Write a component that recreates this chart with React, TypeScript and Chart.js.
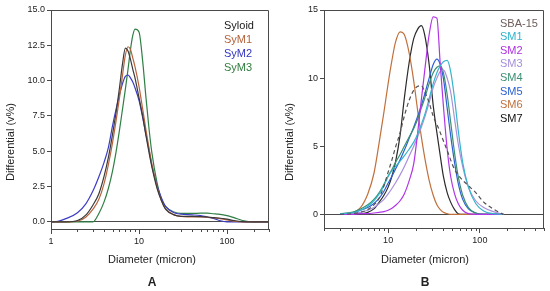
import React, { useEffect, useRef } from "react";
import { Chart, registerables } from "chart.js";
Chart.register(...registerables);

// ---------- Panel A data ----------
const diamA = [1, 1.2, 1.5, 2, 2.5, 3, 3.5, 4, 4.5, 5, 5.5, 6, 6.5, 7, 7.5, 8, 8.5, 9, 10, 11, 12, 13, 14, 16, 18, 20, 25, 30, 40, 50, 60, 70, 80, 100, 120, 150, 200, 300];
const syloid = [0, 0, 0, 0.1, 0.5, 1.2, 2.0, 3.2, 4.6, 6.2, 7.8, 9.5, 11.2, 12.3, 12.1, 11.5, 10.8, 10.2, 8.8, 7.5, 6.1, 4.9, 3.9, 2.4, 1.5, 0.9, 0.5, 0.4, 0.4, 0.38, 0.35, 0.3, 0.28, 0.2, 0.1, 0.02, 0, 0];
const syM1 = [0, 0, 0, 0.05, 0.35, 0.9, 1.6, 2.7, 4.1, 5.6, 7.2, 8.8, 10.4, 11.8, 12.4, 12.2, 11.6, 11.0, 9.6, 8.0, 6.5, 5.2, 4.1, 2.5, 1.5, 0.95, 0.5, 0.4, 0.35, 0.35, 0.33, 0.3, 0.25, 0.15, 0.05, 0, 0, 0];
const syM2 = [0, 0.05, 0.25, 0.65, 1.3, 2.2, 3.2, 4.2, 5.3, 6.8, 8.0, 9.0, 9.8, 10.3, 10.4, 10.2, 9.9, 9.5, 8.6, 7.4, 6.2, 5.1, 4.0, 2.6, 1.7, 1.1, 0.65, 0.55, 0.5, 0.45, 0.35, 0.25, 0.12, 0, 0, 0, 0, 0];
const syM3 = [0, 0, 0, 0, 0, 0, 0.6, 1.4, 2.4, 3.6, 5.0, 6.5, 8.0, 9.4, 10.8, 12.2, 13.2, 13.65, 13.45, 11.4, 8.8, 6.6, 4.9, 2.8, 1.6, 1.1, 0.7, 0.6, 0.6, 0.62, 0.62, 0.58, 0.55, 0.45, 0.3, 0.1, 0, 0];
const labelsA = ["Syloid", "SyM1", "SyM2", "SyM3"];
const yTicksA = [0, 2.5, 5, 7.5, 10, 12.5, 15];
const xMajorA = [1, 10, 100];
const xMinorA = [2, 3, 4, 5, 6, 7, 8, 9, 20, 30, 40, 50, 60, 70, 80, 90, 200, 300];

// ---------- Panel B data ----------
const diamB = [3, 4, 5, 6, 7, 8, 9, 10, 11, 12, 13.5, 15, 17, 19, 21, 23, 25, 28, 31, 34, 37, 40, 44, 48, 53, 58, 65, 75, 90, 110, 140, 180];
const sba15 = [0, 0.05, 0.15, 0.35, 0.7, 1.2, 2.1, 3.1, 4.0, 4.9, 6.0, 7.2, 8.4, 9.1, 9.4, 9.45, 9.0, 8.2, 7.2, 6.6, 6.0, 5.4, 4.7, 4.0, 3.3, 2.9, 2.5, 2.1, 1.6, 0.9, 0.4, 0];
const sm1 = [0.05, 0.1, 0.3, 0.6, 1.0, 1.5, 2.1, 2.8, 3.2, 3.5, 3.9, 4.3, 4.8, 5.3, 5.9, 6.6, 7.3, 8.5, 9.6, 10.4, 10.9, 11.2, 11.3, 10.5, 8.5, 6.2, 3.8, 2.0, 0.8, 0.25, 0.05, 0];
const sm2 = [0, 0, 0.05, 0.05, 0.1, 0.15, 0.2, 0.3, 0.45, 0.65, 1.0, 1.5, 2.5, 3.7, 6.0, 8.4, 10.5, 13.2, 14.5, 14.4, 11.0, 8.0, 4.8, 2.8, 1.5, 0.8, 0.3, 0.05, 0, 0, 0, 0];
const sm3 = [0, 0.05, 0.15, 0.3, 0.5, 0.8, 1.1, 1.5, 1.9, 2.3, 2.9, 3.5, 4.3, 5.0, 5.7, 6.4, 7.1, 8.2, 9.3, 10.0, 10.5, 10.6, 10.0, 9.0, 7.0, 5.2, 3.5, 2.0, 1.0, 0.5, 0.2, 0];
const sm4 = [0.05, 0.15, 0.4, 0.7, 1.1, 1.6, 2.2, 2.8, 3.3, 3.8, 4.4, 5.0, 5.7, 6.3, 7.0, 7.8, 8.5, 9.6, 10.4, 10.8, 10.9, 10.4, 8.8, 6.8, 4.5, 2.8, 1.4, 0.5, 0.1, 0, 0, 0];
const sm5 = [0.05, 0.1, 0.3, 0.5, 0.8, 1.2, 1.7, 2.3, 2.8, 3.3, 4.0, 4.7, 5.6, 6.4, 7.2, 8.0, 8.8, 10.0, 11.0, 11.4, 11.0, 10.0, 7.8, 5.8, 3.8, 2.3, 1.1, 0.4, 0.1, 0, 0, 0];
const sm6 = [0, 0.1, 0.5, 1.5, 3.0, 5.3, 7.5, 9.6, 11.3, 12.6, 13.4, 13.2, 11.8, 9.8, 7.6, 5.7, 4.2, 2.5, 1.4, 0.7, 0.35, 0.15, 0.05, 0, 0, 0, 0, 0, 0, 0, 0, 0];
const sm7 = [0, 0, 0.05, 0.15, 0.4, 0.9, 1.4, 2.0, 2.8, 3.8, 5.8, 8.5, 11.2, 12.9, 13.6, 13.85, 13.2, 11.0, 8.0, 6.0, 4.3, 2.8, 1.6, 0.9, 0.35, 0.05, 0, 0, 0, 0, 0, 0];
const labelsB = ["SBA-15", "SM1", "SM2", "SM3", "SM4", "SM5", "SM6", "SM7"];
const yTicksB = [0, 5, 10, 15];
const xMajorB = [10, 100];
const xMinorB = [2, 3, 4, 5, 6, 7, 8, 9, 20, 30, 40, 50, 60, 70, 80, 90, 200, 300, 400, 500];

const FONT = "'Liberation Sans', Arial, Helvetica, sans-serif";
const AXIS = "#4a4a4a";

type SeriesSpec = { label: string; values: number[]; color: string; text: string; dash?: number[] };
type PanelSpec = {
  x: number[];
  series: SeriesSpec[];
  xMin: number; xMax: number; yMin: number; yMax: number;
  yTicks: number[]; yDec: number; xMajor: number[]; xMinor: number[];
  yAxisWidth: number; xAxisHeight: number; padRight: number; padTop: number;
  legendX: number; legendY: number; legendStep: number;
  xTitleX: number; xTitleY: number; yTitleX: number; yTitleY: number;
  letter: string; letterX: number; letterY: number;
};

const panelA: PanelSpec = {
  x: diamA,
  series: [
    { label: labelsA[0], values: syloid, color: "#3a3a3a", text: "#1a1a1a" },
    { label: labelsA[1], values: syM1, color: "#b8653e", text: "#b5613a" },
    { label: labelsA[2], values: syM2, color: "#3d3dc4", text: "#3333c0" },
    { label: labelsA[3], values: syM3, color: "#2f7f45", text: "#2e7d3c" },
  ],
  xMin: 1, xMax: 300, yMin: -0.5, yMax: 15,
  yTicks: yTicksA, yDec: 1, xMajor: xMajorA, xMinor: xMinorA,
  yAxisWidth: 51, xAxisHeight: 62, padRight: 6, padTop: 10,
  legendX: 224, legendY: 26, legendStep: 13.9,
  xTitleX: 152, xTitleY: 260, yTitleX: 11, yTitleY: 142,
  letter: "A", letterX: 152, letterY: 283,
};

const panelB: PanelSpec = {
  x: diamB,
  series: [
    { label: labelsB[0], values: sba15, color: "#555050", text: "#6e5c5c", dash: [4, 3] },
    { label: labelsB[1], values: sm1, color: "#35b5cc", text: "#2fb3cc" },
    { label: labelsB[2], values: sm2, color: "#b035e6", text: "#b030e0" },
    { label: labelsB[3], values: sm3, color: "#a890dc", text: "#a48fd8" },
    { label: labelsB[4], values: sm4, color: "#3a9070", text: "#3a9070" },
    { label: labelsB[5], values: sm5, color: "#2f5fd4", text: "#2a5fd0" },
    { label: labelsB[6], values: sm6, color: "#c0703c", text: "#c0703c" },
    { label: labelsB[7], values: sm7, color: "#2a2a2a", text: "#111111" },
  ],
  xMin: 2, xMax: 500, yMin: -1, yMax: 15,
  yTicks: yTicksB, yDec: 0, xMajor: xMajorB, xMinor: xMinorB,
  yAxisWidth: 49, xAxisHeight: 63, padRight: 6, padTop: 10,
  legendX: 225, legendY: 23.5, legendStep: 13.6,
  xTitleX: 150, xTitleY: 260, yTitleX: 15, yTitleY: 142,
  letter: "B", letterX: 150, letterY: 283,
};

function decorPlugin(spec: PanelSpec) {
  return {
    id: "decor" + spec.letter,
    afterDraw(chart: any) {
      const ctx = chart.ctx;
      const a = chart.chartArea;
      ctx.save();
      ctx.strokeStyle = AXIS;
      ctx.lineWidth = 1;
      ctx.beginPath();
      ctx.moveTo(Math.round(a.left) - 0.5, Math.round(a.top) + 0.5);
      ctx.lineTo(Math.round(a.right) - 0.5, Math.round(a.top) + 0.5);
      ctx.lineTo(Math.round(a.right) - 0.5, Math.round(a.bottom));
      ctx.stroke();
      const xs = chart.scales.x;
      ctx.beginPath();
      spec.xMinor.forEach((v) => {
        const px = Math.round(xs.getPixelForValue(v)) + 0.5;
        ctx.moveTo(px, a.bottom);
        ctx.lineTo(px, a.bottom + 3);
      });
      ctx.stroke();
      ctx.font = `11px ${FONT}`;
      ctx.textAlign = "left";
      ctx.textBaseline = "middle";
      chart.data.datasets.forEach((ds: any, i: number) => {
        ctx.fillStyle = spec.series[i].text;
        ctx.fillText(ds.label, spec.legendX, spec.legendY + i * spec.legendStep);
      });
      ctx.fillStyle = "#222";
      ctx.textAlign = "center";
      ctx.fillText("Diameter (micron)", spec.xTitleX, spec.xTitleY);
      ctx.font = `bold 12px ${FONT}`;
      ctx.fillText(spec.letter, spec.letterX, spec.letterY);
      ctx.font = `11px ${FONT}`;
      ctx.translate(spec.yTitleX, spec.yTitleY);
      ctx.rotate(-Math.PI / 2);
      ctx.fillText("Differential (v%)", 0, 0);
      ctx.restore();
    },
  };
}

function buildConfig(spec: PanelSpec): any {
  return {
    type: "line",
    data: {
      datasets: spec.series.map((s) => ({
        label: s.label,
        data: spec.x.map((xv, i) => ({ x: xv, y: s.values[i] })),
        borderColor: s.color,
        backgroundColor: s.color,
        borderWidth: 1.2,
        borderDash: s.dash || [],
        pointRadius: 0,
        fill: false,
        cubicInterpolationMode: "monotone",
      })),
    },
    options: {
      animation: false,
      responsive: false,
      maintainAspectRatio: false,
      layout: { padding: { left: 0, right: spec.padRight, top: spec.padTop, bottom: 0 } },
      plugins: { legend: { display: false }, tooltip: { enabled: false }, title: { display: false } },
      scales: {
        x: {
          type: "logarithmic",
          min: spec.xMin,
          max: spec.xMax,
          afterBuildTicks: (s: any) => {
            s.ticks = spec.xMajor.map((v) => ({ value: v, major: true }));
          },
          afterFit: (s: any) => {
            s.height = spec.xAxisHeight;
          },
          grid: { drawOnChartArea: false, drawTicks: true, tickLength: 5, tickColor: AXIS, tickWidth: 1 },
          border: { color: AXIS, width: 1 },
          ticks: {
            autoSkip: false,
            maxRotation: 0,
            padding: 2,
            color: "#222",
            font: { family: FONT, size: 9 },
            callback: (v: any) => String(v),
          },
        },
        y: {
          type: "linear",
          min: spec.yMin,
          max: spec.yMax,
          afterBuildTicks: (s: any) => {
            s.ticks = spec.yTicks.map((v) => ({ value: v }));
          },
          afterFit: (s: any) => {
            s.width = spec.yAxisWidth;
          },
          grid: {
            drawOnChartArea: true,
            color: (c: any) => (c.tick && c.tick.value === 0 ? AXIS : "rgba(0,0,0,0)"),
            tickLength: 4,
            tickColor: AXIS,
            tickWidth: 1,
          },
          border: { color: AXIS, width: 1 },
          ticks: {
            padding: 2,
            color: "#222",
            font: { family: FONT, size: 9 },
            callback: (v: any) => Number(v).toFixed(spec.yDec),
          },
        },
      },
    },
    plugins: [decorPlugin(spec)],
  };
}

function Panel({ spec, left }: { spec: PanelSpec; left: number }) {
  const ref = useRef<HTMLCanvasElement>(null);
  useEffect(() => {
    const chart = new Chart(ref.current as HTMLCanvasElement, buildConfig(spec));
    return () => chart.destroy();
  }, [spec]);
  return (
    <canvas
      ref={ref}
      width={275}
      height={291}
      style={{ position: "absolute", left, top: 0, width: 275, height: 291 }}
    />
  );
}

export default function App() {
  return (
    <div style={{ position: "fixed", left: 0, top: 0, width: 550, height: 291, background: "#fff" }}>
      <Panel spec={panelA} left={0} />
      <Panel spec={panelB} left={275} />
    </div>
  );
}
